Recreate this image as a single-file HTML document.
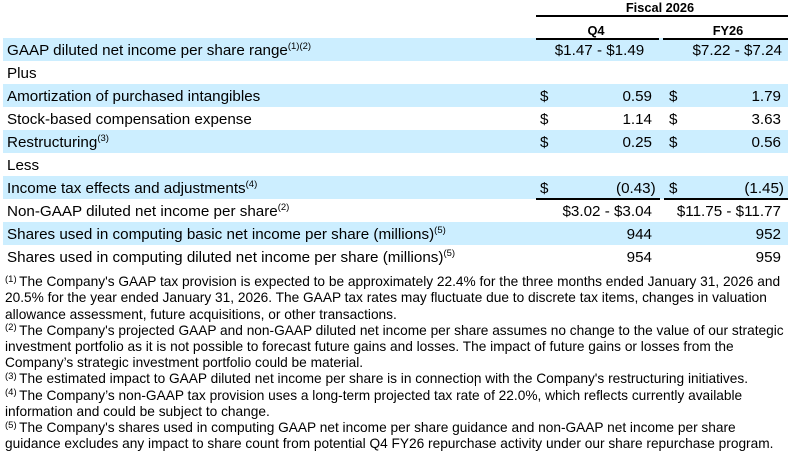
<!DOCTYPE html>
<html>
<head>
<meta charset="utf-8">
<style>
  html, body { margin:0; padding:0; }
  body { width:793px; height:458px; background:#fff; position:relative; overflow:hidden;
         font-family:"Liberation Sans", Arial, sans-serif; color:#000; }
  .band { position:absolute; left:3px; width:785px; height:23px; background:#cceeff; }
  .t { position:absolute; white-space:nowrap; font-size:15.2px; line-height:23px; height:23px; }
  .lab { left:7px; }
  .d1 { left:540px; }
  .d2 { left:669px; }
  .r1 { right:141px; text-align:right; }
  .r2 { right:12px; text-align:right; }
  .sup { font-size:9.5px; position:relative; top:-6px; line-height:0; }
  .h { position:absolute; font-weight:bold; font-size:12.8px; line-height:15px; white-space:nowrap; text-align:center; }
  .ln { position:absolute; background:#000; height:2px; }
  .fn { position:absolute; left:5px; top:274.2px; font-size:13.7px; line-height:16.2px; white-space:nowrap; }
  .fs { font-size:9.5px; position:relative; top:-4.5px; line-height:0; margin-right:2.5px; }
</style>
</head>
<body>
  <!-- header -->
  <div class="h" style="left:600px; width:120px; top:0px;">Fiscal 2026</div>
  <div class="ln" style="left:536px; width:252px; top:15px;"></div>
  <div class="h" style="left:556px; width:80px; top:23px;">Q4</div>
  <div class="h" style="left:688px; width:80px; top:23px;">FY26</div>

  <!-- bands -->
  <div class="band" style="top:38px;"></div>
  <div class="band" style="top:84px;"></div>
  <div class="band" style="top:130px;"></div>
  <div class="band" style="top:176px;"></div>
  <div class="band" style="top:222px;"></div>

  <div class="ln" style="left:536px; width:123px; top:37.5px;"></div>
  <div class="ln" style="left:663px; width:125px; top:37.5px;"></div>

  <!-- row 0 -->
  <div class="t lab" style="top:39.3px;">GAAP diluted net income per share range<span class="sup">(1)(2)</span></div>
  <div class="t" style="left:538px; width:123px; text-align:center; top:39.3px;">$1.47 - $1.49</div>
  <div class="t" style="right:11px; text-align:right; top:39.3px;">$7.22 - $7.24</div>

  <!-- row 1 -->
  <div class="t lab" style="top:62.3px;">Plus</div>

  <!-- row 2 -->
  <div class="t lab" style="top:85.3px;">Amortization of purchased intangibles</div>
  <div class="t d1" style="top:85.3px;">$</div>
  <div class="t r1" style="top:85.3px;">0.59</div>
  <div class="t d2" style="top:85.3px;">$</div>
  <div class="t r2" style="top:85.3px;">1.79</div>

  <!-- row 3 -->
  <div class="t lab" style="top:108.3px;">Stock-based compensation expense</div>
  <div class="t d1" style="top:108.3px;">$</div>
  <div class="t r1" style="top:108.3px;">1.14</div>
  <div class="t d2" style="top:108.3px;">$</div>
  <div class="t r2" style="top:108.3px;">3.63</div>

  <!-- row 4 -->
  <div class="t lab" style="top:131.3px;">Restructuring<span class="sup">(3)</span></div>
  <div class="t d1" style="top:131.3px;">$</div>
  <div class="t r1" style="top:131.3px;">0.25</div>
  <div class="t d2" style="top:131.3px;">$</div>
  <div class="t r2" style="top:131.3px;">0.56</div>

  <!-- row 5 -->
  <div class="t lab" style="top:154.3px;">Less</div>

  <!-- row 6 -->
  <div class="t lab" style="top:177.3px;">Income tax effects and adjustments<span class="sup">(4)</span></div>
  <div class="t d1" style="top:177.3px;">$</div>
  <div class="t" style="right:137.3px; text-align:right; top:177.3px;">(0.43)</div>
  <div class="t d2" style="top:177.3px;">$</div>
  <div class="t" style="right:9px; text-align:right; top:177.3px;">(1.45)</div>
  <div class="ln" style="left:536px; width:124px; top:198px;"></div>
  <div class="ln" style="left:664px; width:124px; top:198px;"></div>

  <!-- row 7 -->
  <div class="t lab" style="top:200.3px;">Non-GAAP diluted net income per share<span class="sup">(2)</span></div>
  <div class="t r1" style="top:200.3px;">$3.02 - $3.04</div>
  <div class="t r2" style="top:200.3px;">$11.75 - $11.77</div>

  <!-- row 8 -->
  <div class="t lab" style="top:223.3px;">Shares used in computing basic net income per share (millions)<span class="sup">(5)</span></div>
  <div class="t r1" style="top:223.3px;">944</div>
  <div class="t r2" style="top:223.3px;">952</div>

  <!-- row 9 -->
  <div class="t lab" style="top:246.3px;">Shares used in computing diluted net income per share (millions)<span class="sup">(5)</span></div>
  <div class="t r1" style="top:246.3px;">954</div>
  <div class="t r2" style="top:246.3px;">959</div>

  <!-- footnotes -->
  <div class="fn">
    <div><span class="fs">(1)</span>The Company's GAAP tax provision is expected to be approximately 22.4% for the three months ended January 31, 2026 and</div>
    <div>20.5% for the year ended January 31, 2026. The GAAP tax rates may fluctuate due to discrete tax items, changes in valuation</div>
    <div>allowance assessment, future acquisitions, or other transactions.</div>
    <div><span class="fs">(2)</span>The Company's projected GAAP and non-GAAP diluted net income per share assumes no change to the value of our strategic</div>
    <div>investment portfolio as it is not possible to forecast future gains and losses. The impact of future gains or losses from the</div>
    <div>Company’s strategic investment portfolio could be material.</div>
    <div><span class="fs">(3)</span>The estimated impact to GAAP diluted net income per share is in connection with the Company's restructuring initiatives.</div>
    <div><span class="fs">(4)</span>The Company’s non-GAAP tax provision uses a long-term projected tax rate of 22.0%, which reflects currently available</div>
    <div>information and could be subject to change.</div>
    <div><span class="fs">(5)</span>The Company's shares used in computing GAAP net income per share guidance and non-GAAP net income per share</div>
    <div>guidance excludes any impact to share count from potential Q4 FY26 repurchase activity under our share repurchase program.</div>
  </div>
  <div style="position:absolute; left:475px; top:375px; width:1px; height:11px; background:#000;"></div>
</body>
</html>
